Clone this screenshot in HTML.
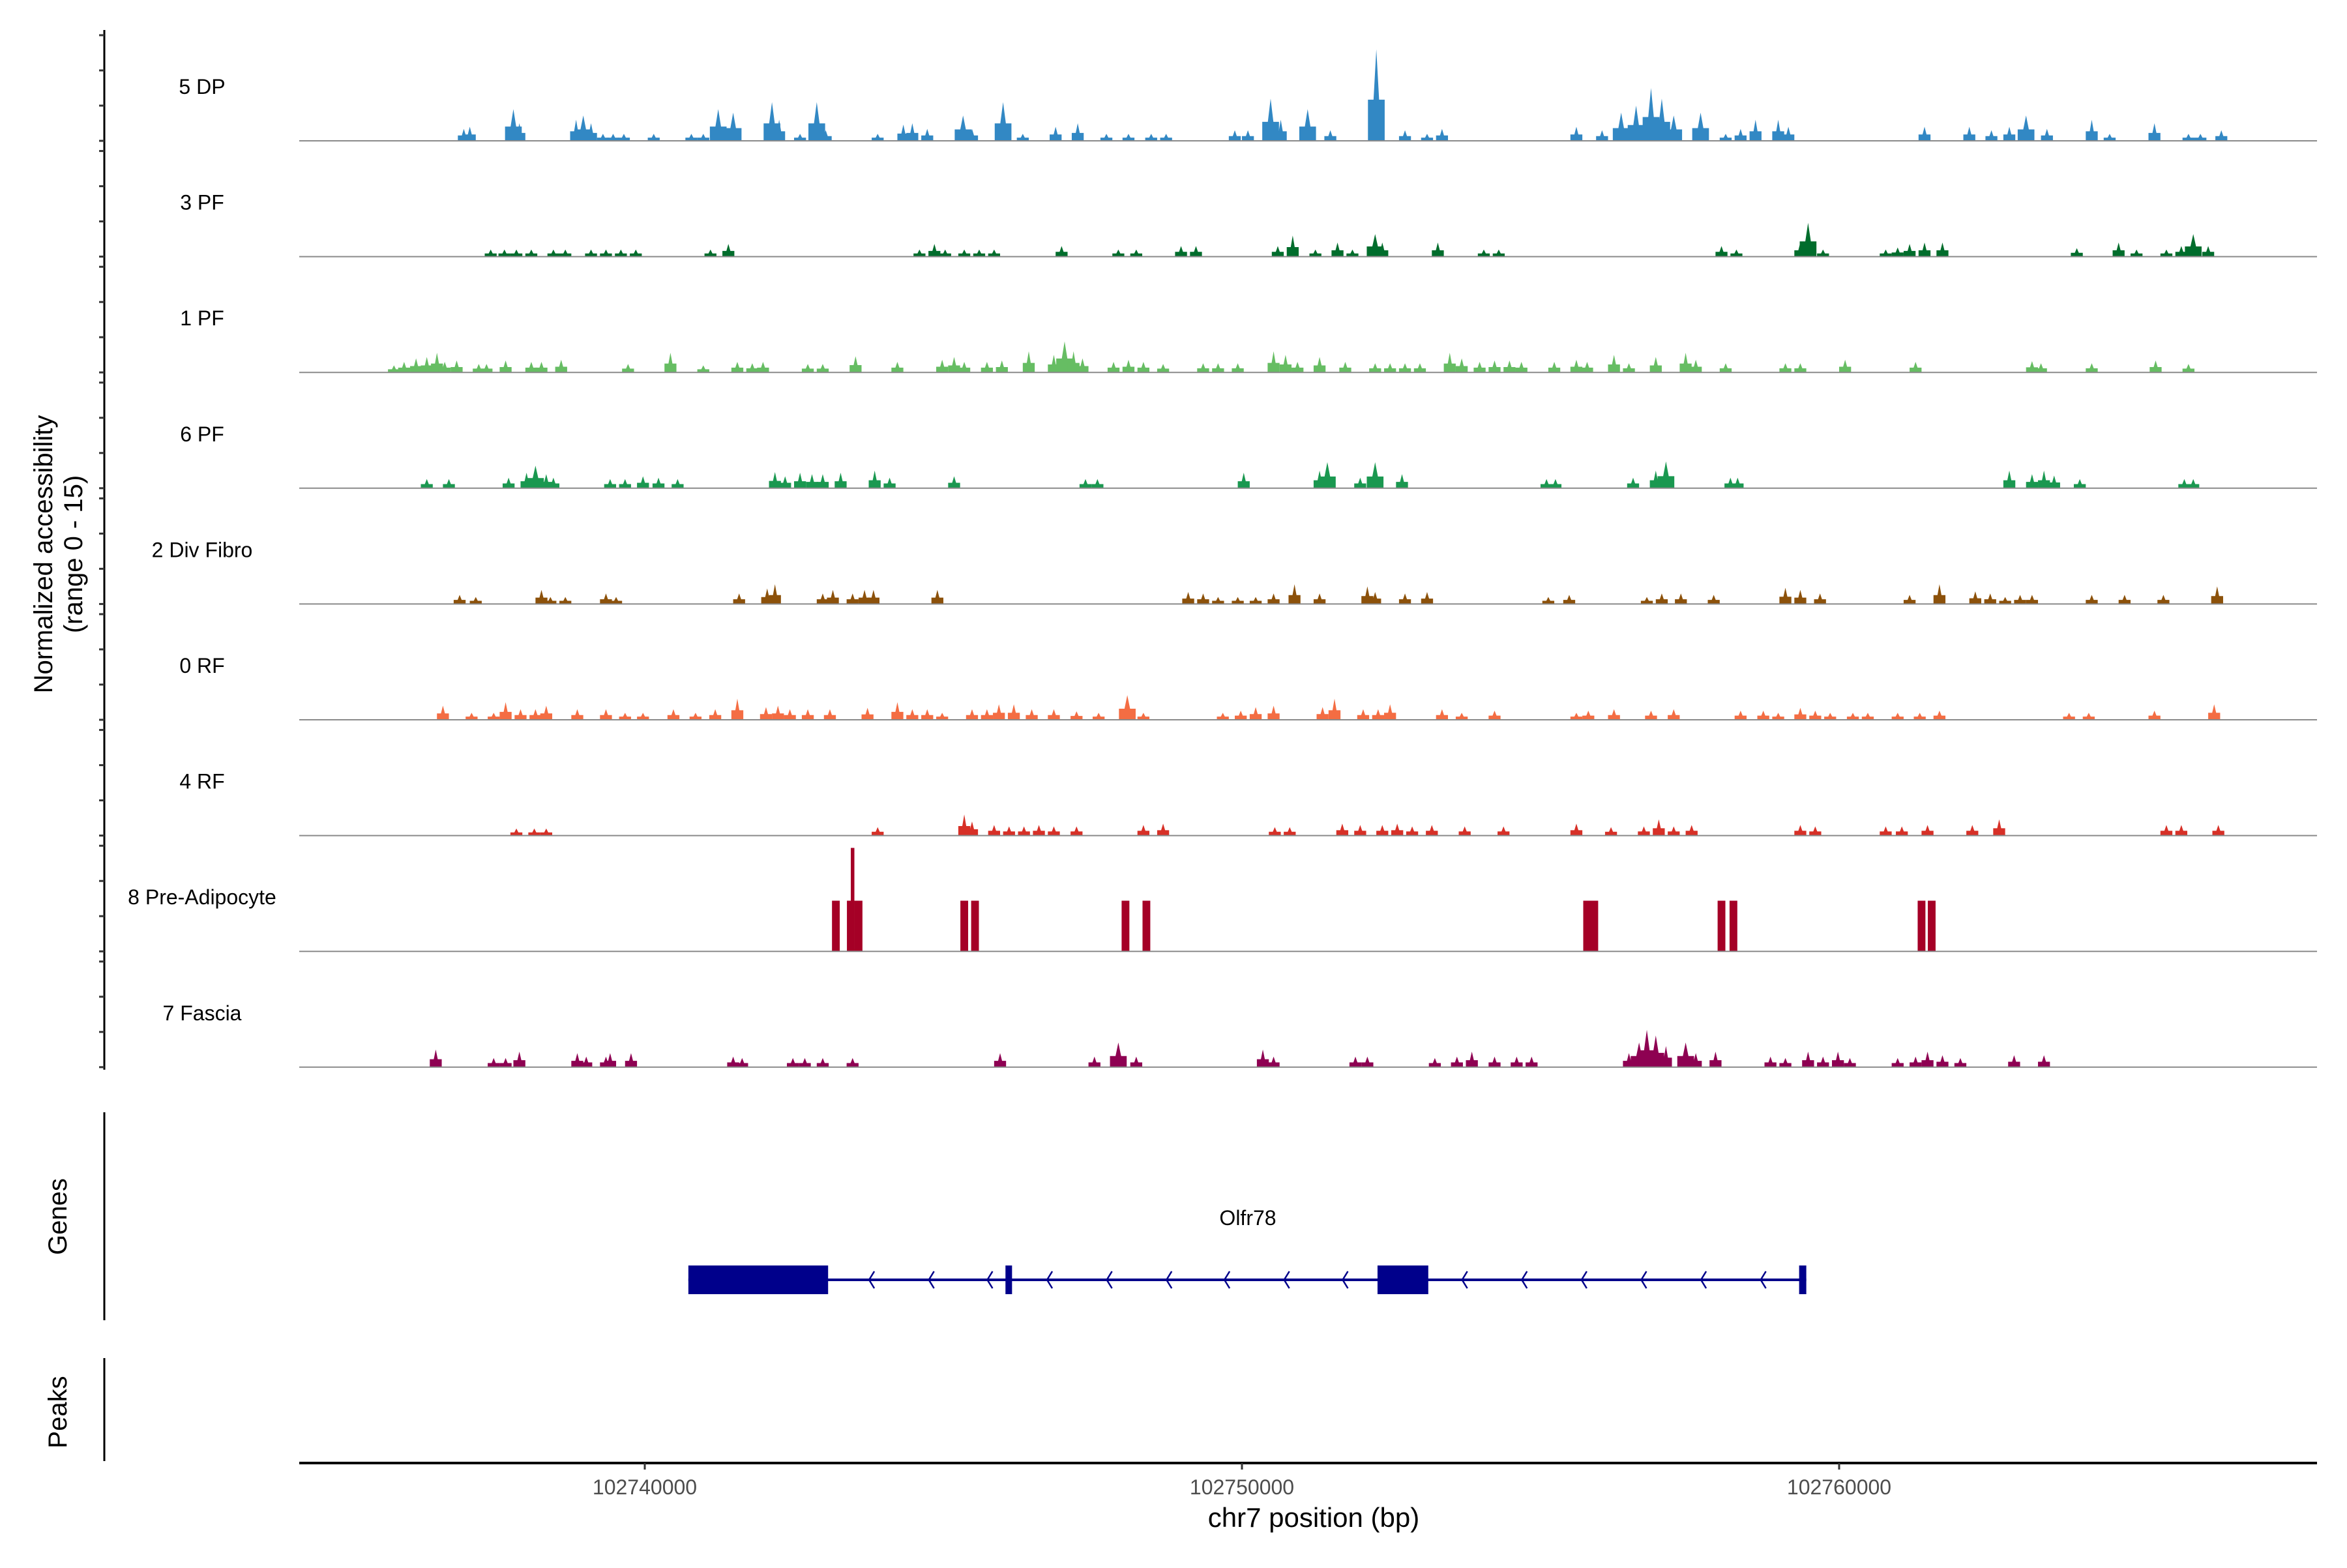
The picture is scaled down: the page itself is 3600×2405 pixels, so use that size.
<!DOCTYPE html>
<html><head><meta charset="utf-8"><style>
html,body{margin:0;padding:0;background:#fff;}
svg text{font-family:"Liberation Sans",sans-serif;}
</style></head><body>
<svg id="chart" xmlns="http://www.w3.org/2000/svg" width="3600" height="2400" viewBox="0 0 3600 2400">
<rect x="0" y="0" width="3600" height="2400" fill="#fff"/>
<g id="tracks"></g>
<g id="genes"></g>
<g id="axes"></g>
<text x="0" y="0" transform="translate(80,850) rotate(-90)" text-anchor="middle" font-size="40" fill="#000">Normalized accessibility</text>
<text x="0" y="0" transform="translate(126,850) rotate(-90)" text-anchor="middle" font-size="40" fill="#000">(range 0 - 15)</text>
<text x="0" y="0" transform="translate(102,1866) rotate(-90)" text-anchor="middle" font-size="40" fill="#000">Genes</text>
<text x="0" y="0" transform="translate(102,2166) rotate(-90)" text-anchor="middle" font-size="40" fill="#000">Peaks</text>
<text x="2015" y="2342" text-anchor="middle" font-size="42" fill="#000">chr7 position (bp)</text>
</svg>
<script>
// positions in kb relative to chr7:102740000, heights in normalized accessibility (0-15)
const trackNames = ["5 DP","3 PF","1 PF","6 PF","2 Div Fibro","0 RF","4 RF","8 Pre-Adipocyte","7 Fascia"];
const trackColors = ["#3288c4","#006d2c","#66bd63","#1a9850","#8c510a","#f46d43","#d73027","#a50026","#8e0152"];
const pos5DP = [-3.03,-2.93,-2.2,-2.1,-1.15,-1.03,-0.9,-0.7,-0.53,-0.35,0.15,0.78,0.98,1.23,1.48,2.13,2.25,2.6,2.88,3.03,3.9,4.33,4.48,4.73,5.33,5.48,6.0,6.33,6.88,7.25,7.73,8.1,8.48,8.73,9.88,10.1,10.48,10.65,11.1,11.48,12.25,12.73,13.1,13.35,15.6,16.03,16.35,16.6,16.85,17.03,17.23,17.68,18.1,18.35,18.6,18.98,19.15,21.43,22.18,22.55,22.85,23.13,23.48,24.23,24.53,25.28,25.85,26.05,26.4];
const val5DP = [1.7,2,4.5,2.5,3,3.6,2.5,1,1,1,1,1,1,4.5,4,5.5,3,1,5.5,1.5,1,2.3,2.5,1.7,3.6,1.7,5.5,1,2,2.5,1,1,1,1,1.5,1.5,6,3,4.5,1.5,13,1.5,1,1.7,2,1.5,4,5,7.5,6,3.6,4,1,1.7,3,3,2,2,2,1.5,2,3.6,1.7,3,1,2.5,1,1,1.5];
const pos3PF = [-2.58,-2.35,-2.15,-1.9,-1.53,-1.33,-0.9,-0.65,-0.4,-0.15,1.1,1.4,4.6,4.85,5.03,5.35,5.6,5.85,6.98,7.93,8.23,8.98,9.23,10.6,10.85,11.23,11.6,11.85,12.23,12.35,13.28,14.05,14.3,18.03,18.28,19.35,19.48,19.73,20.78,20.98,21.18,21.43,21.73,23.98,24.68,24.98,25.48,25.73,25.93,26.18];
const val3PF = [1,1,1,1,1,1,1,1,1,1,1,1.8,1,1.8,1,1,1,1,1.5,1,1,1.5,1.5,1.5,3,1,2,1,3.2,2,2,1,1,1.5,1,2,4.8,1,1,1.3,1.8,2,2,1.2,2,1,1,1.5,3.2,1.5];
const pos1PF = [-4.2,-4.03,-3.83,-3.65,-3.48,-3.35,-3.15,-2.78,-2.65,-2.33,-1.9,-1.73,-1.4,-0.28,0.43,0.98,1.55,1.8,1.98,2.73,2.98,3.53,4.23,4.98,5.18,5.35,5.73,5.98,6.43,6.85,7.03,7.18,7.33,7.85,8.1,8.35,8.68,9.35,9.6,9.93,10.53,10.73,10.93,11.3,11.73,12.23,12.48,12.73,12.98,13.48,13.68,13.98,14.23,14.48,14.68,15.23,15.6,15.78,16.23,16.48,16.93,17.43,17.6,18.1,19.1,19.35,20.1,21.28,23.23,23.38,24.23,25.3,25.85];
const val1PF = [1,1.5,2,2.2,2.8,1.5,1.7,1.2,1.2,1.7,1.5,1.5,1.8,1.2,2.8,1,1.5,1.3,1.5,1.2,1.2,2.3,1.5,1.8,2.2,1.5,1.5,1.7,3,2.5,4.4,3,2,1.5,1.8,1.5,1.2,1.3,1.3,1.3,3,2.5,1.5,2.2,1.5,1.3,1.3,1.3,1.3,2.8,2,1.5,1.7,1.7,1.5,1.5,1.8,1.5,2.5,1.3,2.2,2.8,1.8,1.3,1.3,1.3,1.8,1.5,1.6,1.3,1.3,1.7,1.2];
const pos6PF = [-3.65,-3.28,-2.28,-1.98,-1.83,-1.65,-1.53,-0.58,-0.33,-0.03,0.23,0.55,2.18,2.35,2.6,2.8,2.98,3.28,3.85,4.1,5.18,7.38,7.58,10.03,11.3,11.43,11.98,12.23,12.68,15.1,15.25,16.55,16.93,17.1,18.18,18.3,22.85,23.23,23.43,23.6,24.03,25.78,25.93];
const val6PF = [1.3,1.3,1.5,2.2,3.2,2,1.5,1.3,1.3,1.7,1.5,1.3,2.3,1.7,2.2,2,2,2.2,2.5,1.5,1.7,1.3,1.3,2.2,2.5,3.7,1.5,3.7,2,1.3,1.3,1.5,2.5,3.8,1.5,1.5,2.5,2,2.5,1.8,1.3,1.3,1.3];
const posDiv = [-3.1,-2.83,-1.73,-1.58,-1.33,-0.65,-0.48,1.58,2.05,2.18,2.98,3.15,3.48,3.68,3.83,4.9,9.1,9.35,9.6,9.93,10.23,10.53,10.88,11.3,12.1,12.23,12.73,13.1,15.13,15.48,16.78,17.03,17.35,17.9,19.1,19.35,19.68,21.18,21.68,22.28,22.53,22.78,23.03,23.23,24.23,24.78,25.43,26.33];
const valDiv = [1.3,1,2,1,1,1.5,1,1.5,2.2,2.8,1.5,2,1.5,2,2,2,1.7,1.5,1,1,1,1.5,2.8,1.5,2.5,1.7,1.5,1.7,1,1.3,1,1.5,1.5,1.3,2.3,2,1.5,1.3,2.8,1.8,1.5,1,1.3,1.3,1.3,1.3,1.3,2.5];
const pos0RF = [-3.38,-2.9,-2.53,-2.33,-2.08,-1.83,-1.65,-1.13,-0.65,-0.33,-0.03,0.48,0.85,1.18,1.55,2.03,2.23,2.43,2.73,3.1,3.73,4.23,4.48,4.73,4.98,5.48,5.73,5.93,6.18,6.48,6.85,7.23,7.6,8.08,8.35,9.68,9.98,10.23,10.53,11.35,11.55,12.03,12.28,12.48,13.35,13.68,14.23,15.6,15.8,16.23,16.85,17.23,18.35,18.73,18.98,19.35,19.6,19.85,20.23,20.48,20.98,21.35,21.68,23.85,24.18,25.28,26.28];
const val0RF = [2,1,1,2.5,1.5,1.5,2,1.5,1.5,1,1,1.5,1,1.5,3,1.8,2,1.5,1.5,1.5,1.7,2.5,1.5,1.5,1,1.5,1.5,2.2,2.2,1.5,1.5,1.2,1,3.5,1,1,1.3,1.8,2,1.8,3,1.5,1.5,2.2,1.5,1,1.3,1,1.3,1.5,1.3,1.5,1.3,1.3,1,1.7,1.3,1,1,1,1,1,1.3,1,1,1.3,2.2];
const pos4RF = [-2.15,-1.85,-1.65,3.9,5.35,5.48,5.85,6.1,6.35,6.6,6.85,7.23,8.35,8.68,10.55,10.8,11.68,11.98,12.35,12.6,12.85,13.18,13.73,14.38,15.6,16.18,16.73,16.98,17.23,17.53,19.35,19.6,20.78,21.05,21.48,22.23,22.68,25.48,25.73,26.35];
const val4RF = [1,1,1,1.2,3,2,1.5,1.3,1.3,1.5,1.3,1.3,1.5,1.7,1.2,1.2,1.7,1.5,1.5,1.7,1.3,1.5,1.3,1.3,1.7,1.2,1.3,2.3,1.3,1.5,1.5,1.3,1.3,1.3,1.5,1.5,2.3,1.5,1.5,1.5];
const posPre = [3.2,3.45,3.48,3.58,5.35,5.53,8.05,8.4,15.78,15.9,18.03,18.23,21.38,21.55];
const valPre = [7.2,7.2,14.7,7.2,7.2,7.2,7.2,7.2,7.2,7.2,7.2,7.2,7.2,7.2];
const posFas = [-3.5,-2.53,-2.33,-2.1,-1.13,-0.98,-0.65,-0.58,-0.23,1.48,1.63,2.48,2.68,2.98,3.48,5.95,7.53,7.93,8.23,10.35,10.53,11.9,12.1,13.23,13.6,13.85,14.23,14.6,14.85,16.48,16.65,16.78,16.93,17.1,17.43,17.6,17.93,18.85,19.1,19.48,19.73,19.98,20.18,20.98,21.28,21.48,21.73,22.03,22.93,23.43];
const valFas = [2.5,1.3,1.3,2.2,2,1.5,1.5,2,2,1.5,1.3,1.3,1.3,1.3,1.3,2,1.5,3.5,1.5,2.5,1.5,1.5,1.5,1.3,1.5,2.2,1.5,1.5,1.5,2,3.5,5.3,4.5,3,3.5,2,2.2,1.5,1.3,2.2,1.5,2.2,1.3,1.3,1.5,2.2,1.7,1.3,1.7,1.7];
const trackPos = [pos5DP,pos3PF,pos1PF,pos6PF,posDiv,pos0RF,pos4RF,posPre,posFas];
const trackVal = [val5DP,val3PF,val1PF,val6PF,valDiv,val0RF,val4RF,valPre,valFas];
const exonStarts = [0.73,6.04,12.27,19.33];
const exonEnds = [3.07,6.15,13.12,19.45];
const arrowPos = [3.8,4.8,5.78,6.78,7.78,8.78,9.75,10.75,11.73,13.73,14.73,15.73,16.73,17.73,18.73];
const xTicks = [0,10,20];
const xTickLabels = ["102740000","102750000","102760000"];
const geneName = "Olfr78";

const NS = "http://www.w3.org/2000/svg";
function xs(kb){ return 989 + kb*91.6; }
const X0 = 459, X1 = 3554, B0 = 216, PITCH = 177.6, TH = 162;
function ys(i, v){ return B0 + i*PITCH - v/15*TH; }
function mk(tag, attrs, parent){
  const e = document.createElementNS(NS, tag);
  for (const k in attrs) e.setAttribute(k, attrs[k]);
  parent.appendChild(e); return e;
}
const gT = document.getElementById('tracks');
const gA = document.getElementById('axes');
const gG = document.getElementById('genes');

let ax = mk('line',{x1:160,y1:46,x2:160,y2:B0+8*PITCH+4,stroke:'#000','stroke-width':3},gA);


for (let i=0;i<trackNames.length;i++){
  for (let t=0;t<=15;t+=5){
    const tk = mk('line',{x1:152,x2:160,y1:ys(i,t),y2:ys(i,t),stroke:'#333','stroke-width':3},gA);
    
    
  }
}
let ga = mk('line',{x1:160,y1:1706,x2:160,y2:2025,stroke:'#000','stroke-width':3},gA);


let pa = mk('line',{x1:160,y1:2083,x2:160,y2:2241,stroke:'#000','stroke-width':3},gA);



for (let i=0;i<trackNames.length;i++){
  const g = mk('g',{},gT);
  
  
  const base = ys(i,0);
  const lbl = mk('text',{x:310,y:base-72,'text-anchor':'middle','font-size':32,fill:'#000'},g);
  lbl.textContent = trackNames[i];
  
  
  const isRect = (i===7);
  const P = trackPos[i], V = trackVal[i];
  for (let j=0;j<P.length;j++){
    const cx = xs(P[j]), top = ys(i,V[j]);
    let d;
    if (isRect){
      const w = (V[j]>10) ? 0.06 : 0.13;
      const l = xs(P[j]-w/2), r = xs(P[j]+w/2);
      d = `M${l},${base}L${l},${top}L${r},${top}L${r},${base}Z`;
    } else {
      const w = (V[j]>3 ? 0.28 : 0.2)*91.6;
      const mid = base - (base-top)*0.45;
      d = `M${cx-w/2},${base}L${cx-w/2},${mid}L${cx-w/6},${mid}L${cx},${top}L${cx+w/6},${mid}L${cx+w/2},${mid}L${cx+w/2},${base}Z`;
    }
    const pk = mk('path',{d:d,fill:trackColors[i]},g);
    
    
  }
  const bl = mk('line',{x1:X0,x2:X1,y1:base,y2:base,stroke:'#8a8a8a','stroke-width':2},g);
  
  
}

const gy = 1963;
let gl = mk('line',{x1:xs(exonStarts[0]),x2:xs(exonEnds[exonEnds.length-1]),y1:gy,y2:gy,stroke:'#00008b','stroke-width':4},gG);


for (let k=0;k<exonStarts.length;k++){
  const r = mk('rect',{x:xs(exonStarts[k]),y:1941,width:xs(exonEnds[k])-xs(exonStarts[k]),height:44,fill:'#00008b'},gG);
  
  
}
for (const a of arrowPos){
  const x = xs(a);
  const ar = mk('path',{d:`M${x+4},${gy-13}L${x-4},${gy}L${x+4},${gy+13}`,fill:'none',stroke:'#00008b','stroke-width':2.5},gG);
  
  
}
const gn = mk('text',{x:1914,y:1879,'text-anchor':'middle','font-size':32,fill:'#000'},gG);
gn.textContent = geneName;



let xa = mk('line',{x1:X0,x2:X1,y1:2244,y2:2244,stroke:'#000','stroke-width':4},gA);


for (let k=0;k<xTicks.length;k++){
  const x = xs(xTicks[k]);
  const tk = mk('line',{x1:x,x2:x,y1:2244,y2:2254,stroke:'#333','stroke-width':3},gA);
  
  
  const tl = mk('text',{x:x,y:2292,'text-anchor':'middle','font-size':32,fill:'#4d4d4d'},gA);
  tl.textContent = xTickLabels[k];
  
  
}
</script>
</body></html>
